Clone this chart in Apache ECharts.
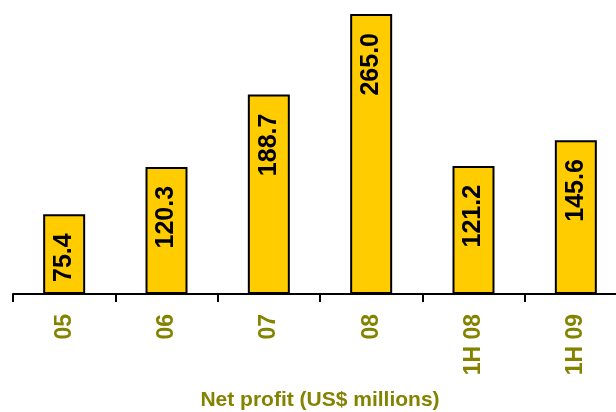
<!DOCTYPE html>
<html>
<head>
<meta charset="utf-8">
<script src="https://cdn.jsdelivr.net/npm/echarts@6/dist/echarts.min.js"></script>
<style>
  html, body { margin: 0; padding: 0; background: #fff; }
  #chart { width: 616px; height: 412px; }
</style>
</head>
<body>
<div id="chart"></div>
<script>
const periods = ["05", "06", "07", "08", "1H 08", "1H 09"];
const netProfit = [75.4, 120.3, 188.7, 265.0, 121.2, 145.6];

const olive = "#838300";

const chart = echarts.init(document.getElementById("chart"));
chart.setOption({
  animation: false,
  grid: {
    left: 13, right: -11, top: 14, bottom: 118,
    containLabel: false,
    outerBoundsMode: "none"
  },
  xAxis: {
    type: "category",
    data: periods,
    name: "Net profit (US$ millions)",
    nameLocation: "middle",
    nameGap: 96,
    nameTextStyle: { color: olive, fontSize: 21, fontWeight: "bold", fontFamily: "Liberation Sans" },
    axisLine: { lineStyle: { color: "#000", width: 2 } },
    axisTick: { show: true, interval: 0, length: 8, lineStyle: { color: "#000", width: 2 } },
    axisLabel: {
      rotate: 90,
      margin: 20,
      color: olive,
      fontSize: 23,
      fontWeight: "bold",
      fontFamily: "Liberation Sans"
    }
  },
  yAxis: {
    type: "value",
    min: 0,
    max: 265,
    show: false,
    splitLine: { show: false }
  },
  series: [
    {
      type: "bar",
      data: netProfit,
      barWidth: 42,
      itemStyle: { color: "#FFCC00", borderColor: "#000", borderWidth: 2 },
      label: {
        show: true,
        position: "insideTop",
        rotate: 90,
        align: "right",
        verticalAlign: "middle",
        distance: 19,
        color: "#000",
        fontSize: 25,
        fontWeight: "bold",
        fontFamily: "Liberation Sans",
        formatter: (p) => p.value.toFixed(1)
      }
    }
  ]
});
</script>
</body>
</html>
